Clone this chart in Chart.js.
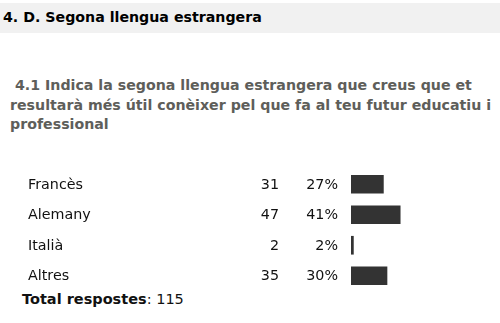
<!DOCTYPE html>
<html><head><meta charset="utf-8">
<script src="https://cdn.jsdelivr.net/npm/chart.js@4"></script>
<style>
html,body{margin:0;padding:0;background:#fff;width:500px;height:323px;overflow:hidden;font-family:"DejaVu Sans",Verdana,sans-serif;}
#hdr{position:absolute;left:0;top:3px;width:500px;height:30px;background:#f1f1f1;}
#hdr span{position:absolute;left:3px;top:6px;font-weight:bold;font-size:14.2px;color:#000;white-space:nowrap;}
#q{position:absolute;left:10px;top:76px;font-weight:bold;font-size:14.2px;line-height:19.5px;color:#5e5e5a;white-space:nowrap;}
#tot{position:absolute;left:22px;top:291px;font-size:14.5px;color:#111;white-space:nowrap;}
#wrap{position:absolute;left:0;top:169px;width:500px;height:122px;}
</style></head><body>
<div id="hdr"><span>4. D. Segona llengua estrangera</span></div>
<div id="q">&nbsp;4.1 Indica la segona llengua estrangera que creus que et<br>resultarà més útil conèixer pel que fa al teu futur educatiu i<br>professional</div>
<div id="wrap"><canvas id="c"></canvas></div>
<div id="tot"><b>Total respostes</b>: 115</div>
<script>
const categories = ["Francès", "Alemany", "Italià", "Altres"];
const counts = [31, 47, 2, 35];
const percents = [27, 41, 2, 30];

const columns = {
  id: 'columns',
  afterDatasetsDraw(chart) {
    const ctx = chart.ctx;
    const ys = chart.scales.y;
    ctx.save();
    ctx.font = '14.3px "DejaVu Sans", Verdana, sans-serif';
    ctx.fillStyle = '#111';
    ctx.textBaseline = 'middle';
    categories.forEach((c, i) => {
      const y = ys.getPixelForValue(i) + 1;
      ctx.textAlign = 'left';
      ctx.fillText(c, 28, y);
      ctx.textAlign = 'right';
      ctx.fillText(String(counts[i]), 279, y);
      ctx.fillText(percents[i] + '%', 338, y);
    });
    ctx.restore();
  }
};

new Chart(document.getElementById('c'), {
  type: 'bar',
  data: {
    labels: categories,
    datasets: [{ data: percents, backgroundColor: '#333333', barThickness: 18, borderWidth: 0 }]
  },
  options: {
    indexAxis: 'y',
    responsive: true,
    maintainAspectRatio: false,
    animation: false,
    layout: { padding: { left: 351, right: 29, top: 0, bottom: 0 } },
    plugins: { legend: { display: false }, tooltip: { enabled: false } },
    scales: {
      x: { display: false, min: 0, max: 100 },
      y: { display: false }
    }
  },
  plugins: [columns]
});
</script>
</body></html>
